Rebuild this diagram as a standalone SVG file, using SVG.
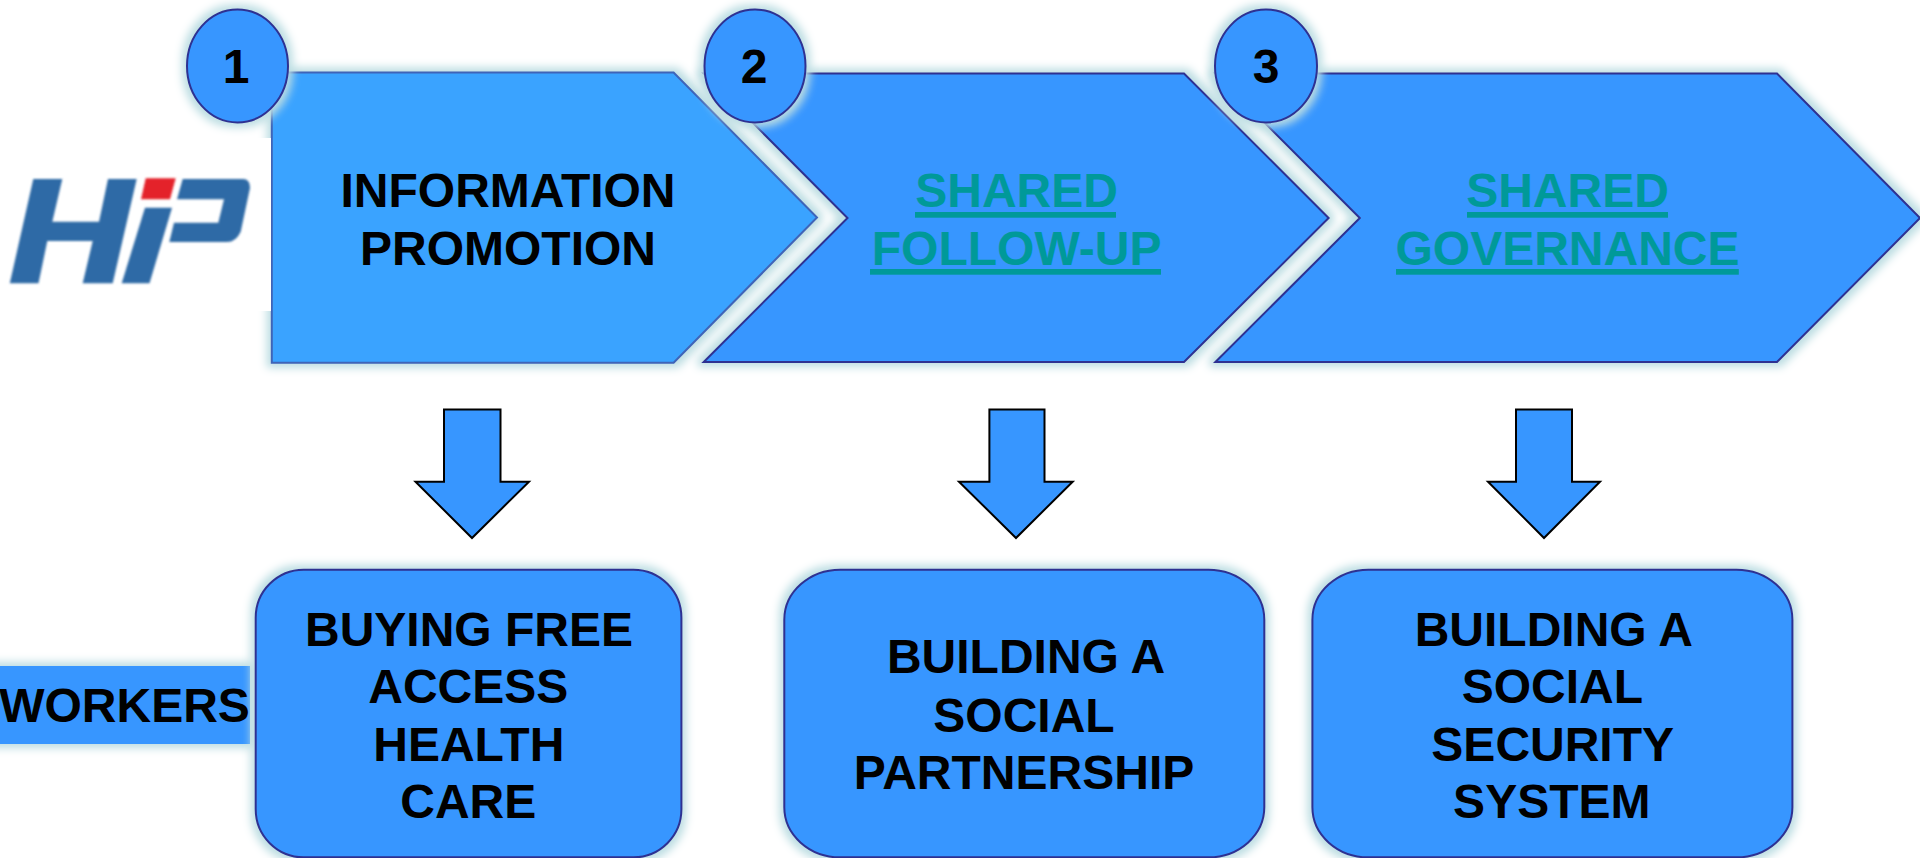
<svg xmlns="http://www.w3.org/2000/svg" width="1920" height="858" viewBox="0 0 1920 858">
<defs>
<filter id="glow" filterUnits="userSpaceOnUse" x="-30" y="-30" width="1980" height="918" color-interpolation-filters="sRGB">
<feMorphology in="SourceAlpha" operator="dilate" radius="4" result="d"/>
<feGaussianBlur in="d" stdDeviation="4" result="b"/>
<feFlood flood-color="#bcdde2"/>
<feComposite in2="b" operator="in" result="h"/>
<feMerge><feMergeNode in="h"/><feMergeNode in="SourceGraphic"/></feMerge>
</filter>
<filter id="soft" x="-5%" y="-5%" width="110%" height="110%"><feGaussianBlur stdDeviation="0.8"/></filter>
</defs>
<style>
.s{fill:#3796ff;stroke:#2e3192;stroke-width:2;filter:url(#glow)}
.p{fill:#3aa3ff;stroke:#3f64b8}
.b{fill:#3796ff;filter:url(#glow)}
.a{fill:#3796ff;stroke:#000;stroke-width:2}
.u{fill:#009999}
text{font-family:"Liberation Sans",Arial,sans-serif;font-weight:700;font-size:48px;text-anchor:middle;fill:#000}
.l{fill:#009999}
</style>
<rect width="1920" height="858" fill="#fff"/>
<g id="step-1">
<path class="s p" d="M271.800 72.500H673.600L817 217.500 673.600 362.700H271.800Z"/>
<text x="508" y="206.700">INFORMATION</text>
<text x="508" y="265">PROMOTION</text>
<ellipse class="s" cx="237.500" cy="66" rx="50.500" ry="56.500"/>
<text x="236" y="83.300">1</text>
</g>
<g id="step-2">
<path class="s" d="M703.700 73.500H1184L1328.600 218 1184 362H703.700L847.500 218Z"/>
<text class="l" x="1016.600" y="206.700">SHARED</text>
<rect class="u" x="915" y="212" width="201" height="5.700"/>
<text class="l" x="1016.600" y="265">FOLLOW-UP</text>
<rect class="u" x="870" y="269" width="291" height="5.700"/>
<ellipse class="s" cx="755" cy="66" rx="50.500" ry="56.500"/>
<text x="754" y="83.300">2</text>
</g>
<g id="step-3">
<path class="s" d="M1215.400 73.500H1777L1920 218 1777 362H1215.400L1359.800 218Z"/>
<text class="l" x="1567.500" y="206.700">SHARED</text>
<rect class="u" x="1467" y="212" width="201" height="5.700"/>
<text class="l" x="1567.500" y="265">GOVERNANCE</text>
<rect class="u" x="1396" y="269" width="342.800" height="5.700"/>
<ellipse class="s" cx="1266" cy="66" rx="51" ry="56.500"/>
<text x="1266" y="83.300">3</text>
</g>
<g id="logo">
<rect x="0" y="138" width="271" height="173" fill="#fff"/>
<g filter="url(#soft)">
<path fill="#2f6aa6" d="M33.300 179 62.300 179 52.300 221.700 99 221.700 108 179 136.700 179 112.700 283.300 82.700 283.300 92.700 241 47.300 241 38.500 283.300 9.800 283.300Z"/>
<path fill="#2f6aa6" d="M145 207.700 172 207.700 149.500 283.300 121.700 283.300Z"/>
<path fill="#e4202a" d="M145.700 178.300 175.700 178.300 170 199.300 141 199.300Z"/>
<path fill="#2f6aa6" d="M182.700 179 243 179Q250 179 250 188L240.700 231.700Q236 242 227 242L169.300 242 174 222.700 218.300 222.700 224 199.300 177 199.300Z"/>
</g>
</g>
<g id="connectors">
<path class="a" d="M444 409.500H500.500V481.700H529L472 538 415.500 481.700H444Z"/>
<path class="a" d="M989.400 409.500H1044.500V481.700H1072.700L1016 538 959 481.700H989.400Z"/>
<path class="a" d="M1516 409.500H1572V481.700H1600L1544 538 1488 481.700H1516Z"/>
</g>
<g id="workers">
<rect class="b" x="-20" y="666" width="270" height="78"/>
</g>
<g id="box-1">
<rect class="s" x="255.700" y="569.700" width="425.700" height="287.600" rx="48" ry="48"/>
<text x="469" y="645.700">BUYING FREE</text>
<text x="468.300" y="702.700">ACCESS</text>
<text x="468.800" y="760.700">HEALTH</text>
<text x="468.300" y="817.700">CARE</text>
</g>
<g id="box-2">
<rect class="s" x="784.300" y="569.700" width="480" height="287.600" rx="56" ry="50"/>
<text x="1026" y="673.300">BUILDING A</text>
<text x="1024" y="731.700">SOCIAL</text>
<text x="1024" y="789.300">PARTNERSHIP</text>
</g>
<g id="box-3">
<rect class="s" x="1312.400" y="569.700" width="480" height="287.600" rx="56" ry="50"/>
<text x="1553.800" y="645.700">BUILDING A</text>
<text x="1552.400" y="702.700">SOCIAL</text>
<text x="1552.700" y="760.700">SECURITY</text>
<text x="1551.800" y="817.700">SYSTEM</text>
</g>
<text x="124.500" y="721.700">WORKERS</text>
</svg>
